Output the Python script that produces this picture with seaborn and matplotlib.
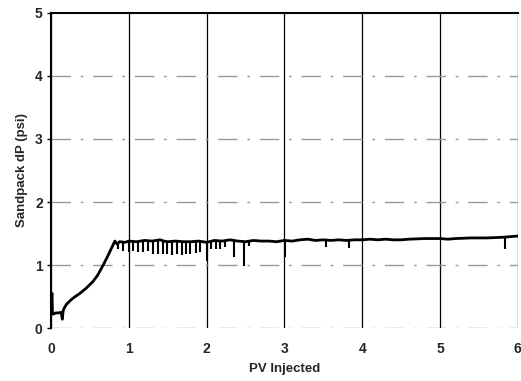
import numpy as np
import pandas as pd
import matplotlib
matplotlib.use("Agg")
import matplotlib.pyplot as plt
import seaborn as sns

# Sandpack pressure drop trace

pv_trace = [0.000, 0.008, 0.012, 0.018, 0.030, 0.060, 0.100, 0.130, 0.145, 0.155,
            0.170, 0.200, 0.250, 0.300, 0.370, 0.450, 0.540, 0.600, 0.670, 0.720,
            0.770, 0.820, 0.850, 0.880, 0.950, 1.000, 1.100, 1.200, 1.300, 1.400,
            1.450, 1.500, 1.600, 1.700, 1.800, 1.900, 2.000, 2.100, 2.200, 2.300,
            2.400, 2.500, 2.600, 2.700, 2.800, 2.900, 3.000, 3.100, 3.200, 3.300,
            3.400, 3.500, 3.600, 3.700, 3.800, 3.900, 4.000, 4.100, 4.200, 4.300,
            4.400, 4.500, 4.600, 4.800, 5.000, 5.100, 5.200, 5.400, 5.600, 5.800,
            6.000]
dp_trace = [0.22, 0.50, 0.55, 0.25, 0.22, 0.24, 0.24, 0.25, 0.14, 0.27,
            0.32, 0.38, 0.44, 0.49, 0.55, 0.63, 0.74, 0.84, 1.00, 1.12,
            1.25, 1.38, 1.33, 1.37, 1.36, 1.38, 1.37, 1.39, 1.38, 1.40,
            1.38, 1.37, 1.38, 1.37, 1.37, 1.38, 1.36, 1.39, 1.38, 1.40,
            1.38, 1.37, 1.39, 1.38, 1.38, 1.37, 1.39, 1.38, 1.40, 1.41,
            1.39, 1.40, 1.39, 1.40, 1.39, 1.40, 1.40, 1.41, 1.40, 1.41,
            1.40, 1.40, 1.41, 1.42, 1.42, 1.41, 1.42, 1.43, 1.43, 1.44,
            1.46]

# downward spikes in the trace
spike_pv = [0.86, 0.92, 1.00, 1.05, 1.12, 1.18, 1.24, 1.31, 1.37, 1.44,
            1.49, 1.55, 1.62, 1.68, 1.73, 1.79, 1.86, 1.91, 2.00, 2.06,
            2.12, 2.17, 2.23, 2.35, 2.48, 2.55, 3.01, 3.54, 3.83, 5.83]
spike_top = [1.36, 1.37, 1.38, 1.38, 1.37, 1.38, 1.39, 1.38, 1.39, 1.39,
             1.38, 1.38, 1.38, 1.37, 1.37, 1.37, 1.38, 1.38, 1.37, 1.38,
             1.39, 1.38, 1.39, 1.40, 1.38, 1.37, 1.39, 1.40, 1.39, 1.44]
spike_low = [1.26, 1.23, 1.20, 1.22, 1.21, 1.20, 1.22, 1.18, 1.18, 1.17,
             1.18, 1.16, 1.17, 1.16, 1.18, 1.17, 1.19, 1.20, 1.06, 1.25,
             1.26, 1.26, 1.28, 1.12, 0.98, 1.30, 1.12, 1.28, 1.27, 1.26]

x_ticks = [0, 1, 2, 3, 4, 5, 6]
y_ticks = [0, 1, 2, 3, 4, 5]

df = pd.DataFrame({"pv": pv_trace, "dp": dp_trace})

sns.set_style("white")
plt.rcParams['font.family'] = ['Liberation Sans', 'DejaVu Sans']

fig = plt.figure(figsize=(5.21, 3.81), dpi=100)
ax = fig.add_axes([0.098, 0.139, 0.896, 0.827])

# grid: solid black verticals, broken grey horizontals
for xv in x_ticks:
    ax.axvline(xv, color="black", lw=0.9, zorder=1)
for yv in y_ticks[:-1]:
    ax.axhline(yv, color="0.6", lw=1.0, ls=(0, (14, 7, 2, 7)), zorder=1)

sns.lineplot(data=df, x="pv", y="dp", color="black", lw=2.0, sort=False,
             estimator=None, ax=ax, zorder=3)
ax.vlines(spike_pv, spike_low, spike_top, color="black", lw=1.5, zorder=3)

ax.set_xlim(0, 6)
ax.set_ylim(0, 5)
ax.set_xticks(x_ticks)
ax.set_yticks(y_ticks)
ax.set_xticklabels([str(t) for t in x_ticks], fontweight="bold", fontsize=10)
ax.set_yticklabels([str(t) for t in y_ticks], fontweight="bold", fontsize=10)
ax.tick_params(axis="x", length=0, pad=10)
ax.tick_params(axis="y", length=3, width=1, color="black", pad=3, left=True)

for side in ["left", "top"]:
    ax.spines[side].set_visible(True)
    ax.spines[side].set_color("black")
    ax.spines[side].set_linewidth(1.5)
for side in ["right", "bottom"]:
    ax.spines[side].set_visible(False)

ax.set_xlabel("PV Injected", fontweight="bold", fontsize=9.5, labelpad=5)
ax.set_ylabel("Sandpack dP (psi)", fontweight="bold", fontsize=9.5, labelpad=5)

fig.savefig("out.png", dpi=100)
